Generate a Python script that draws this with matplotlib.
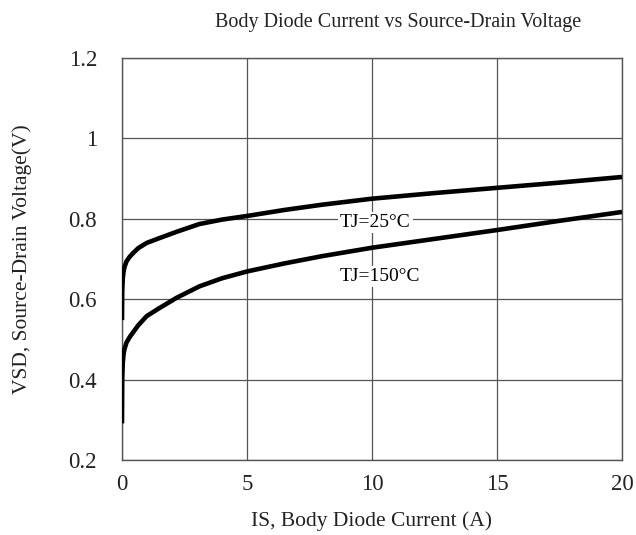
import matplotlib

matplotlib.use("Agg")
import matplotlib.pyplot as plt


# values
current_25 = [0.0, 0.01, 0.03, 0.06, 0.1, 0.18, 0.3, 0.45, 0.65, 0.99, 1.5, 2.2, 3.1, 4.0, 5.0,
              6.5, 8.0, 10.0, 12.5, 15.0, 17.5, 20.0]
vsd_25 = [0.548, 0.62, 0.65, 0.668, 0.680, 0.694, 0.705, 0.715, 0.727, 0.740, 0.752, 0.768, 0.787, 0.798, 0.807,
          0.822, 0.835, 0.850, 0.864, 0.877, 0.890, 0.904]

current_150 = [0.0, 0.01, 0.03, 0.06, 0.1, 0.18, 0.3, 0.45, 0.65, 0.99, 1.5, 2.2, 3.1, 4.0, 5.0,
               6.5, 8.0, 10.0, 12.5, 15.0, 17.5, 20.0]
vsd_150 = [0.291, 0.40, 0.44, 0.462, 0.476, 0.492, 0.505, 0.518, 0.535, 0.558, 0.578, 0.604, 0.632, 0.652, 0.669,
           0.689, 0.707, 0.728, 0.750, 0.772, 0.795, 0.817]

x_ticks = [0, 5, 10, 15, 20]
y_ticks = [0.2, 0.4, 0.6, 0.8, 1.0, 1.2]
y_tick_labels = ["0.2", "0.4", "0.6", "0.8", "1", "1.2"]


def main():
    plt.rcParams["font.family"] = ["Liberation Serif", "DejaVu Serif"]
    fig = plt.figure(figsize=(6.36, 5.35), dpi=100)
    ax = fig.add_axes([0.1918, 0.1402, 0.7862, 0.7514])

    ax.plot(current_25, vsd_25, color="black", linewidth=3.3, solid_capstyle="butt",
            solid_joinstyle="round", zorder=3)
    ax.plot(current_150, vsd_150, color="black", linewidth=3.3, solid_capstyle="butt",
            solid_joinstyle="round", zorder=3)

    ax.set_xlim(0, 20)
    ax.set_ylim(0.2, 1.2)
    ax.set_xticks(x_ticks)
    ax.set_yticks(y_ticks)
    ax.set_yticklabels(y_tick_labels)
    ax.tick_params(length=0, labelsize=16.5, colors="#222222")
    ax.tick_params(axis="x", pad=10)
    ax.tick_params(axis="y", pad=18)
    ax.grid(True, color="#555555", linewidth=0.9)
    for spine in ax.spines.values():
        spine.set_color("#555555")
        spine.set_linewidth(1.0)

    ax.text(8.72, 0.79, "TJ=25°C", fontsize=14, ha="left", va="center",
            bbox=dict(facecolor="white", edgecolor="none", pad=1.5), zorder=4)
    ax.text(8.72, 0.656, "TJ=150°C", fontsize=14, ha="left", va="center",
            bbox=dict(facecolor="white", edgecolor="none", pad=1.5), zorder=4)

    ax.set_xlabel("IS, Body Diode Current (A)", fontsize=15.5, labelpad=12, color="#222222")
    ax.set_ylabel("VSD, Source-Drain Voltage(V)", fontsize=15.5, labelpad=26, color="#222222")
    fig.text(0.626, 0.958, "Body Diode Current vs Source-Drain Voltage", fontsize=14.5,
             ha="center", va="center", color="#222222")

    fig.savefig("out.png", dpi=100)
    plt.close(fig)


if __name__ == "__main__":
    main()
